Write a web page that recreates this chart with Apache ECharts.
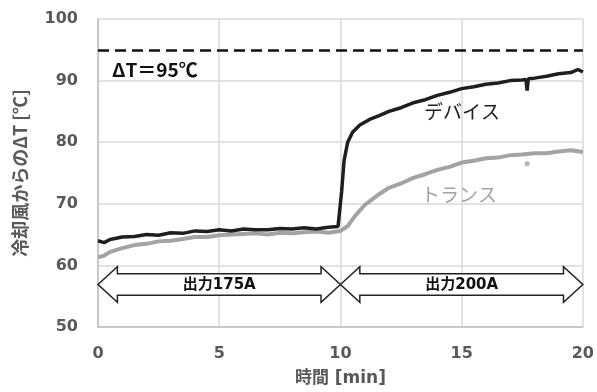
<!DOCTYPE html>
<html lang="ja">
<head>
<meta charset="UTF-8">
<title>冷却風からのΔT</title>
<script src="https://cdn.jsdelivr.net/npm/echarts@6/dist/echarts.min.js"></script>
<style>body{margin:0;background:#fff}</style>
</head>
<body>
<div id="chartmain" style="width:597px;height:392px"></div>
<script>
    // デバイス (black)
    var devTime = [0, 0.25, 0.5, 1, 1.5, 2, 2.5, 3, 3.5, 4, 4.5, 5, 5.5, 6, 6.5, 7, 7.5, 8, 8.5, 9, 9.5, 9.9,
        10.05, 10.15, 10.3, 10.5, 10.8, 11.2, 11.6, 12, 12.5, 13, 13.5, 14, 14.5, 15, 15.5, 16, 16.5, 17, 17.5,
        17.65, 17.7, 17.75, 18, 18.5, 19, 19.5, 19.8, 20];
    var devTemp = [64.0, 63.7, 64.2, 64.6, 64.7, 65.0, 64.9, 65.3, 65.2, 65.6, 65.5, 65.8, 65.6, 65.9, 65.8, 65.8, 66.0, 65.9, 66.1, 65.9, 66.2, 66.3,
        72.0, 77.0, 80.0, 81.6, 82.8, 83.7, 84.3, 85.0, 85.6, 86.4, 86.9, 87.6, 88.1, 88.7, 89.0, 89.4, 89.6, 90.0, 90.1,
        90.2, 88.4, 90.3, 90.4, 90.7, 91.1, 91.3, 91.8, 91.4];

    // トランス (gray)
    var trTime = [0, 0.25, 0.5, 1, 1.5, 2, 2.5, 3, 3.5, 4, 4.5, 5, 5.5, 6, 6.5, 7, 7.5, 8, 8.5, 9, 9.5, 10,
        10.3, 10.6, 11, 11.5, 12, 12.5, 13, 13.5, 14, 14.5, 15, 15.5, 16, 16.5, 17, 17.5, 18, 18.5, 19, 19.5, 20];
    var trTemp = [61.3, 61.6, 62.2, 62.8, 63.3, 63.5, 63.9, 64.0, 64.3, 64.6, 64.6, 64.9, 65.0, 65.1, 65.2, 65.0, 65.3, 65.2, 65.4, 65.5, 65.3, 65.6,
        66.4, 68.0, 69.8, 71.3, 72.6, 73.3, 74.2, 74.8, 75.5, 76.0, 76.7, 77.0, 77.4, 77.5, 77.9, 78.0, 78.2, 78.2, 78.5, 78.7, 78.4];
    var trOutlier = [[17.7, 76.5]];

    var targetDT = 95;

    // 出力区間
    var stageFrom = [0, 10];
    var stageTo = [10, 20];
    var stageText = ['出力175A', '出力200A'];

    function pairs(xs, ys) {
        var out = [];
        for (var i = 0; i < xs.length; i++) out.push([xs[i], ys[i]]);
        return out;
    }

    var font = "'DejaVu Sans', 'Noto Sans CJK JP', sans-serif";
    var jp = "'Noto Sans CJK JP', sans-serif";

    var option = {
        animation: false,
        backgroundColor: '#fff',
        grid: {left: 98, right: 14, top: 19, bottom: 63},
        xAxis: {
            type: 'value', min: 0, max: 20, interval: 5,
            name: '時間 [min]', nameLocation: 'middle', nameGap: 43,
            nameTextStyle: {fontFamily: font, fontWeight: 'bold', fontSize: 17, color: '#595959'},
            axisLine: {lineStyle: {color: '#bfbfbf', width: 1.5}},
            axisTick: {show: false},
            axisLabel: {fontFamily: font, fontWeight: 'bold', fontSize: 16, color: '#595959', margin: 19},
            splitLine: {lineStyle: {color: '#d9d9d9', width: 1.5}}
        },
        yAxis: {
            type: 'value', min: 50, max: 100, interval: 10,
            name: '冷却風からのΔT [℃]', nameLocation: 'middle', nameGap: 69,
            nameTextStyle: {fontFamily: jp, fontWeight: 'bold', fontSize: 18, color: '#595959'},
            axisLine: {show: true, lineStyle: {color: '#bfbfbf', width: 1.5}},
            axisTick: {show: false},
            axisLabel: {fontFamily: font, fontWeight: 'bold', fontSize: 16, color: '#595959', margin: 20},
            splitLine: {lineStyle: {color: '#d9d9d9', width: 1.5}}
        },
        series: [
            {
                name: 'トランス', type: 'line', data: pairs(trTime, trTemp),
                showSymbol: false, lineStyle: {color: '#a3a3a3', width: 4}, z: 3
            },
            {
                name: 'outlier', type: 'scatter', data: trOutlier,
                symbolSize: 5, itemStyle: {color: '#a3a3a3'}, z: 3
            },
            {
                name: 'デバイス', type: 'line', data: pairs(devTime, devTemp),
                showSymbol: false, lineStyle: {color: '#1e1e1e', width: 3.5}, z: 4,
                markLine: {
                    silent: true, symbol: 'none',
                    lineStyle: {color: '#111', width: 2.5, type: [11, 6]},
                    label: {show: false},
                    data: [{yAxis: targetDT}]
                }
            }
        ]
    };

    var myChart = echarts.init(document.getElementById('chartmain'));
    myChart.setOption(option);

    // 矢印と注記
    var yc = 56.9, bh = 1.75, hh = 2.9, hl = 0.8;
    var g = [];
    for (var k = 0; k < stageFrom.length; k++) {
        var a = stageFrom[k], b = stageTo[k];
        var pts = [[a, yc], [a + hl, yc + hh], [a + hl, yc + bh], [b - hl, yc + bh], [b - hl, yc + hh],
            [b, yc], [b - hl, yc - hh], [b - hl, yc - bh], [a + hl, yc - bh], [a + hl, yc - hh]];
        var px = pts.map(function (p) { return myChart.convertToPixel({gridIndex: 0}, p); });
        g.push({type: 'polygon', shape: {points: px}, style: {fill: '#fff', stroke: '#222', lineWidth: 1.5}, z: 10});
        var c = myChart.convertToPixel({gridIndex: 0}, [(a + b) / 2, yc]);
        g.push({type: 'text', x: c[0], y: c[1] + 1, z: 11,
            style: {text: stageText[k], fontFamily: font, fontWeight: 'bold', fontSize: 15, fill: '#111',
                align: 'center', verticalAlign: 'middle'}});
    }
    g.push({type: 'text', left: 112, top: 60, z: 11,
        style: {text: 'ΔT＝95℃', fontFamily: jp, fontWeight: 'bold', fontSize: 19, fill: '#111'}});
    g.push({type: 'text', left: 424, top: 102, z: 11,
        style: {text: 'デバイス', fontFamily: jp, fontSize: 19, fill: '#1e1e1e'}});
    g.push({type: 'text', left: 421, top: 185, z: 11,
        style: {text: 'トランス', fontFamily: jp, fontSize: 19, fill: '#a3a3a3'}});
    myChart.setOption({graphic: g});
</script>
</body>
</html>
